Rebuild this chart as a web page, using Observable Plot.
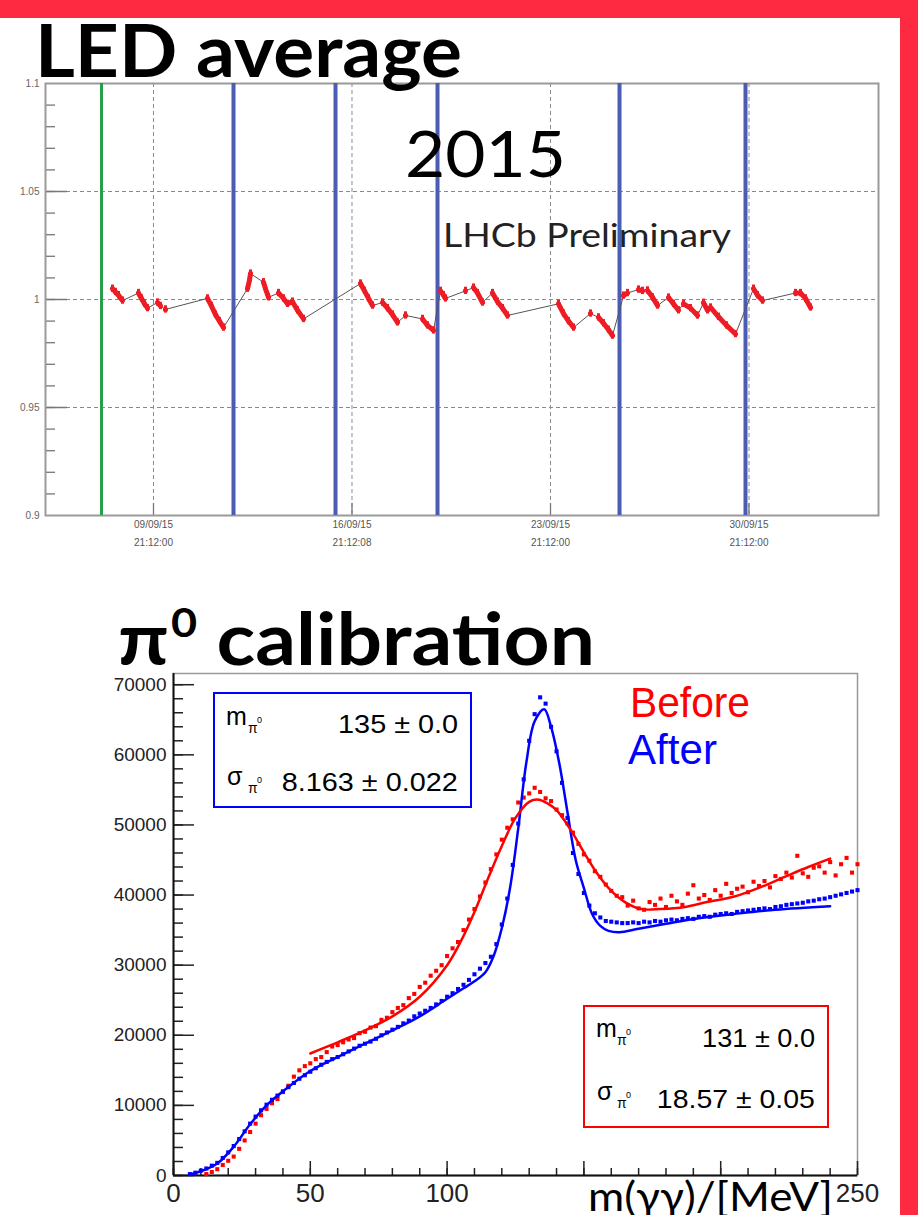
<!DOCTYPE html>
<html><head><meta charset="utf-8">
<script src="https://cdn.jsdelivr.net/npm/d3@7"></script>
<script src="https://cdn.jsdelivr.net/npm/@observablehq/plot@0.6"></script>
<style>
html,body{margin:0;padding:0;background:#fff;}
#page{position:relative;width:918px;height:1215px;overflow:hidden;background:#fff;}
.abs{position:absolute;white-space:nowrap;}
svg{position:absolute;left:0;}
</style></head><body><div id="page"></div>
<script>
// ---------------- LED average (top chart) ----------------
// time in fractional day of September 2015
const ledDay = [8.437,8.543,8.649,8.790, 9.354,9.460,9.566,9.672, 10.024,10.130, 10.307,
  11.788,11.929,12.070,12.211,12.352, 13.198,13.269,13.304, 13.762,13.833,13.939,
  14.291,14.468,14.609,14.785,14.961,15.173, 17.183,17.324,17.465,17.606,
  17.959,18.135,18.312,18.488, 18.770, 19.370,19.546,19.758, 20.004,20.110,20.181, 20.886,
  21.168,21.309,21.486, 21.838,22.015,22.191,22.367, 24.166,24.342,24.518,24.695, 25.294,
  25.576,25.753,25.929,26.070, 26.458,26.599, 26.987,27.128, 27.304,27.481,27.657,
  28.045,28.221,28.397, 28.574,28.821,29.068, 29.279,29.420, 29.526,29.808,30.090,30.408,
  31.042,31.183,31.360, 32.523,32.700,32.876,33.052];
const ledValue = [1.005,1.0035,1.002,0.9995, 1.003,1.0005,0.998,0.996, 0.9986,0.997, 0.9954,
  1.0005,0.997,0.993,0.990,0.987, 1.005,1.009,1.012, 1.008,1.005,1.001,
  1.003,1.0005,0.998,0.999,0.995,0.991, 1.0074,1.004,1.0005,0.9972,
  0.9986,0.996,0.993,0.9894, 0.9926, 0.991,0.988,0.9857, 1.004,1.002,1.0005, 1.004,
  1.0055,1.003,0.9986, 1.003,0.999,0.996,0.9926, 0.998,0.9935,0.990,0.987, 0.9935,
  0.9917,0.989,0.986,0.9833, 1.0018,1.003, 1.0046,1.004, 1.0042,1.001,0.9972,
  1.0009,0.998,0.995, 0.998,0.996,0.9926, 0.9985,0.995, 0.9963,0.992,0.988,0.984,
  1.005,1.002,0.9995, 1.003,1.003,1.0005,0.9963];
const ledGroup = [1,1,1,1, 2,2,2,2, 3,3, 4, 5,5,5,5,5, 6,6,6, 7,7,7, 8,8,8,8,8,8, 9,9,9,9,
  10,10,10,10, 11, 12,12,12, 13,13,13, 14, 15,15,15, 16,16,16,16, 17,17,17,17, 18,
  19,19,19,19, 20,20, 21,21, 22,22,22, 23,23,23, 24,24,24, 25,25, 26,26,26,26,
  27,27,27, 28,28,28,28];
const ledErr = 0.0017;
const ledGreenDays = [8.050];
const ledBlueDays = [12.705, 16.302, 19.899, 26.317, 30.760];
const ledTickDays = [9.8833, 16.8833, 23.8833, 30.8833];
const ledTickDates = ["09/09/15", "16/09/15", "23/09/15", "30/09/15"];
const ledTickTimes = ["21:12:00", "21:12:08", "21:12:00", "21:12:00"];
const ledYTicks = [0.9, 0.95, 1, 1.05, 1.1];
const ledYLabels = ["0.9", "0.95", "1", "1.05", "1.1"];

// ---------------- pi0 calibration (bottom chart) ----------------
const massBins = [6,8,10,12,14,16,18,20,22,24,26,28,30,32,34,36,38,40,42,44,46,48,50,52,54,56,58,60,
  62,64,66,68,70,72,74,76,78,80,82,84,86,88,90,92,94,96,98,100,102,104,106,108,110,112,114,116,118,
  120,122,124,126,128,130,132,134,136,138,140,142,144,146,148,150,152,154,156,158,160,162,164,166,
  168,170,172,174,176,178,180,182,184,186,188,190,192,194,196,198,200,202,204,206,208,210,212,214,
  216,218,220,222,224,226,228,230,232,234,236,238,240,242,244,246,248,250];
const afterCounts = [200,400,700,1000,1400,1800,2500,3300,4200,5200,6300,7400,8400,9300,10100,10800,
  11400,12000,12600,13200,13800,14300,14800,15300,15800,16200,16600,16900,17300,17700,18100,18500,
  18800,19100,19500,20000,20400,20800,21200,21700,22100,22700,23100,23500,23900,24400,24900,25500,
  26000,26600,27200,27900,28700,29500,30300,31200,33000,35800,39500,44300,50200,56500,62000,65800,
  68200,67300,64000,60500,56000,51000,46000,43000,40300,38500,37400,36800,36300,36200,36100,36000,
  36000,36100,36000,36200,36100,36300,36200,36400,36500,36400,36600,36700,36600,36900,37000,36900,
  37200,37300,37400,37300,37600,37700,37800,37900,38000,38100,38000,38300,38400,38600,38700,38800,
  38900,39100,39200,39400,39500,39700,39900,40100,40300,40500,40700];
const beforeCounts = [null,null,null,200,500,900,1500,2100,2700,3800,5000,6200,7400,8600,9500,10300,
  10900,11900,12800,14100,15000,15600,16000,16600,16900,17600,18400,18600,19000,19400,19600,20300,
  20500,21100,21300,22200,22500,23300,23900,24300,25300,25900,26900,27500,28500,29200,30000,31300,
  32400,33300,35000,36500,38000,39800,41800,43700,45800,47900,49600,50800,53200,53900,54500,55300,
  54700,53800,53400,52200,51400,50200,48900,47300,45800,44900,43400,42600,41500,40600,39900,39700,
  38500,39200,38100,37900,39000,38600,39500,38300,39900,39100,38600,40200,41400,39500,40000,39300,
  40700,39900,41600,40300,40900,41200,40400,41900,41300,42000,41100,42700,42300,43200,42500,45600,
  43100,42600,43900,44100,43200,44700,42800,44400,45300,43200,44400];
const afterFitMass = [6,10,16,22,28,34,40,50,60,70,80,90,100,106,110,114,117,120,123,126,129,132,
  135.5,138,141,144,147,150,153,156,159,163,170,180,192,205,220,240];
const afterFitValue = [150,600,1700,4100,7300,10000,12000,14900,16900,18800,20700,22700,25200,26700,
  27700,29000,31300,35300,41000,49500,59000,64800,66500,64000,58800,51800,45000,41000,37300,35600,
  34900,34700,35200,35900,36700,37300,37900,38400];
const beforeFitMass = [50,55,60,70,80,90,100,105,110,115,120,125,130,133.5,137,140,145,150,155,160,
  165,171,178,187,195,205,215,224,232,240];
const beforeFitValue = [17400,18200,19000,20700,22700,25500,30000,33400,37600,42400,47000,51000,53300,
  53600,53000,52100,49400,46100,43000,40600,39000,38000,38000,38300,39000,39800,41200,42700,44000,45200];
const massTicks = [0,50,100,150,200,250];
const massTickLabels = [0,50,100,250];   // 150 and 200 are hidden by the axis title in the original
const countTicks = [0,10000,20000,30000,40000,50000,60000,70000];

const page = document.getElementById("page");
const RED = "#ee1c25";

// ---- top chart ----
const led = ledDay.map((d,i)=>({day:d, value:ledValue[i], group:ledGroup[i]}));
const dateLab = new Map(ledTickDays.map((d,i)=>[d, ledTickDates[i] + "\n" + ledTickTimes[i]]));
const yLab = new Map(ledYTicks.map((d,i)=>[d, ledYLabels[i]]));
const tW = 918, tH = 570, tML = 45, tMR = 40, tMT = 83, tMB = 55;
const tFW = tW - tML - tMR, tFH = tH - tMT - tMB;
const topSvg = Plot.plot({
  width:tW, height:tH, marginLeft:tML, marginRight:tMR, marginTop:tMT, marginBottom:tMB,
  style:{background:"transparent", fontFamily:"'Liberation Sans', Arial, sans-serif", overflow:"visible"},
  x:{domain:[6.075, 35.45], axis:null},
  y:{domain:[0.9, 1.1], axis:null},
  marks:[
    Plot.gridY([0.95,1,1.05], {stroke:"#8a8a8a", strokeOpacity:1, strokeDasharray:"4,3"}),
    Plot.gridX(ledTickDays, {stroke:"#8a8a8a", strokeOpacity:1, strokeDasharray:"4,3"}),
    Plot.tickY(d3.range(0.91, 1.095, 0.01), {y:d=>d, stroke:"#777", strokeWidth:1.3, insetRight:tFW-10}),
    Plot.tickY([0.95,1,1.05], {y:d=>d, stroke:"#777", strokeWidth:1.5, insetRight:tFW-22}),
    Plot.tickX(ledTickDays, {x:d=>d, stroke:"#777", strokeWidth:1.3, insetTop:tFH-12}),
    Plot.frame({stroke:"#9a9a9a", strokeWidth:2}),
    Plot.axisY(ledYTicks, {tickSize:0, tickPadding:6, fontSize:10, color:"#666", tickFormat:d=>yLab.get(d), label:null}),
    Plot.axisX(ledTickDays, {tickSize:0, tickPadding:-1, fontSize:10, lineHeight:1.85, color:"#555", tickFormat:d=>dateLab.get(d), label:null}),
    Plot.ruleX(ledGreenDays, {x:d=>d, stroke:"#2a9d4a", strokeWidth:3}),
    Plot.ruleX(ledBlueDays, {x:d=>d, stroke:"#4a5cb4", strokeWidth:4}),
    Plot.line(led, {x:"day", y:"value", stroke:"#555", strokeWidth:1}),
    Plot.line(led, {x:"day", y:"value", z:"group", stroke:RED, strokeWidth:5}),
    Plot.ruleX(led, {x:"day", y1:d=>d.value-ledErr, y2:d=>d.value+ledErr, stroke:RED, strokeWidth:3}),
    Plot.dot(led, {x:"day", y:"value", r:2.3, fill:RED})
  ]
});
topSvg.style.top = "0px";
page.appendChild(topSvg);

// ---- bottom chart ----
const before = [], after = [];
massBins.forEach((m,i)=>{
  if (beforeCounts[i] != null) before.push({m, v:beforeCounts[i]});
  if (afterCounts[i] != null) after.push({m, v:afterCounts[i]});
});
const afterFit = afterFitMass.map((m,i)=>({m, v:afterFitValue[i]}));
const beforeFit = beforeFitMass.map((m,i)=>({m, v:beforeFitValue[i]}));
const bW = 918, bH = 655, bML = 173, bMR = 61, bMT = 113, bMB = 40;
const bFW = bW - bML - bMR, bFH = bH - bMT - bMB;
const botSvg = Plot.plot({
  width:bW, height:bH, marginLeft:bML, marginRight:bMR, marginTop:bMT, marginBottom:bMB,
  style:{background:"transparent", fontFamily:"'Liberation Sans', Arial, sans-serif", overflow:"visible"},
  x:{domain:[0,250], axis:null},
  y:{domain:[0,71600], axis:null},
  marks:[
    Plot.frame({stroke:"#999", strokeWidth:1.5}),
    Plot.tickY(d3.range(0, 71000, 2000), {y:d=>d, stroke:"#222", strokeWidth:1.5, insetRight:bFW-10}),
    Plot.tickY(countTicks, {y:d=>d, stroke:"#222", strokeWidth:1.5, insetRight:bFW-21}),
    Plot.tickX(d3.range(0, 251, 10), {x:d=>d, stroke:"#222", strokeWidth:1.5, insetTop:bFH-7}),
    Plot.tickX(massTicks, {x:d=>d, stroke:"#222", strokeWidth:1.5, insetTop:bFH-14}),
    Plot.ruleX([0], {stroke:"#111", strokeWidth:2}),
    Plot.ruleY([0], {stroke:"#111", strokeWidth:2}),
    Plot.axisY(countTicks, {tickSize:0, tickPadding:7, fontSize:19, color:"#222", tickFormat:d=>String(d), label:null}),
    Plot.axisX(massTickLabels, {tickSize:0, tickPadding:8, fontSize:26, color:"#222", tickFormat:d=>String(d), label:null}),
    Plot.dot(before, {x:"m", y:"v", symbol:"square", r:2.3, fill:"#ff0000"}),
    Plot.dot(after, {x:"m", y:"v", symbol:"square", r:2.3, fill:"#0000ff"}),
    Plot.line(afterFit, {x:"m", y:"v", stroke:"#0000ff", strokeWidth:2.5, curve:"catmull-rom"}),
    Plot.line(beforeFit, {x:"m", y:"v", stroke:"#ff0000", strokeWidth:2.5, curve:"catmull-rom"})
  ]
});
botSvg.style.top = "560px";
page.appendChild(botSvg);

// ---- text overlays ----
const KLIB = 0.8465, KLATO = 0.887;
function txt(html, x, base, size, opt = {}) {
  const d = document.createElement("div");
  d.className = "abs";
  d.innerHTML = html;
  const fam = opt.font || "'Liberation Sans', Arial, sans-serif";
  const k = opt.k ?? KLIB;
  d.style.fontFamily = fam;
  d.style.fontSize = size + "px";
  d.style.fontWeight = opt.weight || 400;
  d.style.lineHeight = size + "px";
  d.style.top = (base - k * size) + "px";
  if (opt.right != null) d.style.right = (918 - opt.right) + "px"; else d.style.left = x + "px";
  d.style.color = opt.color || "#000";
  if (opt.ls) d.style.letterSpacing = opt.ls;
  page.appendChild(d);
  if (opt.w) {
    const nat = d.getBoundingClientRect().width;
    if (nat > 0) {
      d.style.transformOrigin = opt.right != null ? "right center" : "left center";
      d.style.transform = `scaleX(${opt.w / nat})`;
    }
  }
  return d;
}
const LATO = "Lato, 'Open Sans', sans-serif";
txt("LED average", 35, 78, 73, {font:LATO, k:KLATO, weight:700, w:427});
txt("2015", 405, 178, 64, {font:LATO, k:KLATO, w:161});
txt("LHCb Preliminary", 443, 247, 32, {font:LATO, k:KLATO, color:"#222", w:288});
txt("π<span style=\"font-size:0.56em;position:relative;top:-0.7em;margin-left:2px\">0</span> calibration", 118, 666, 73, {font:LATO, k:KLATO, weight:700, w:477});
txt("Before", 630, 718, 42, {color:"#ff0000", w:120});
txt("After", 628, 765, 42, {color:"#0000ff", w:89});
txt("m(γγ)/[MeV]", 588, 1211, 40, {font:LATO, k:KLATO, w:245});

// stats boxes
function box(x, y, w, h, color) {
  const b = document.createElement("div");
  b.className = "abs";
  Object.assign(b.style, {left:x+"px", top:y+"px", width:(w-4)+"px", height:(h-4)+"px", border:"2px solid "+color, background:"#fff"});
  page.appendChild(b);
}
function label(sym, x, base, subx) {
  txt(sym, x, base, 25);
  txt("π", subx, base + 8, 14);
  txt("0", subx + 9, base - 1, 9);
}
box(213, 692, 259, 116, "#0000ff");
label("m", 226, 725, 248);
txt("135 ± 0.0", 0, 733, 25, {right:458, w:120});
label("σ", 227, 785, 248);
txt("8.163 ± 0.022", 0, 791, 25, {right:458, w:176});
box(583, 1005, 246, 123, "#ff0000");
label("m", 596, 1037, 617);
txt("131 ± 0.0", 0, 1047, 25, {right:815, w:113});
label("σ", 597, 1100, 617);
txt("18.57 ± 0.05", 0, 1108, 25, {right:815, w:158});

// red slide frame
const f1 = document.createElement("div"); f1.className="abs";
Object.assign(f1.style, {left:"0px", top:"0px", width:"918px", height:"18px", background:"#fe2a41"});
page.appendChild(f1);
const f2 = document.createElement("div"); f2.className="abs";
Object.assign(f2.style, {left:"900px", top:"0px", width:"18px", height:"1215px", background:"#fe2a41"});
page.appendChild(f2);
</script></body></html>
